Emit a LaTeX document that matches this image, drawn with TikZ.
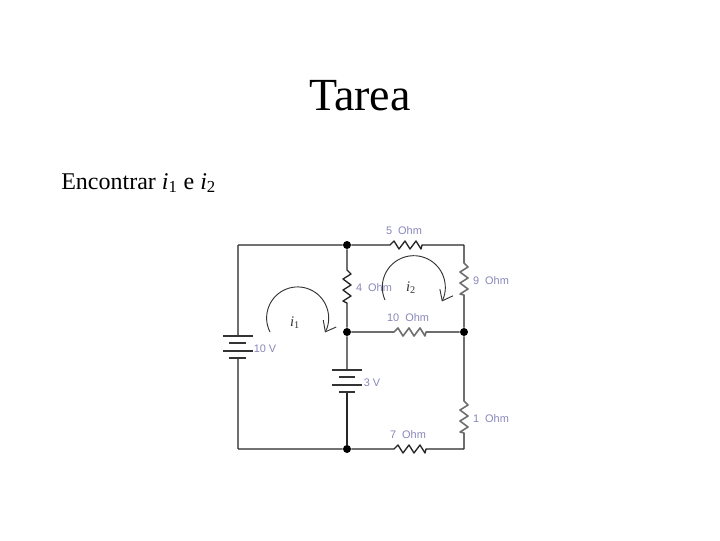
\documentclass[tikz,border=0pt]{standalone}
\usepackage{fontspec}
\setmainfont{Liberation Serif}
\newfontfamily\labelfont{Liberation Sans}
\usetikzlibrary{arrows.meta}
\definecolor{labelblue}{RGB}{135,135,185}
\definecolor{wiregray}{RGB}{110,110,110}
\tikzset{
	dot/.style={circle,fill=black,inner sep=0pt,minimum size=6pt},
	value/.style={text=labelblue,font=\labelfont\fontsize{8.2}{10}\selectfont,inner sep=0pt},
	current/.style={font=\fontsize{11}{13}\selectfont,inner sep=0pt,text=black!80},
	wire/.style={line width=1pt,black!85},
	graywire/.style={line width=1.2pt,wiregray},
	plate/.style={line width=.8pt,black!80},
	resh/.style={to path={-- ++(4,-4) -- ++(5,8) -- ++(6,-8) -- ++(5,8) -- ++(6,-8) -- ++(5,8) -- (\tikztotarget)}},
	resv/.style={to path={-- ++(4,4) -- ++(-8,5) -- ++(8,6) -- ++(-8,5) -- ++(8,6) -- ++(-8,5) -- (\tikztotarget)}},
	turn/.style={line width=.7pt,black!80,->},
}
\begin{document}
\begin{tikzpicture}[x=.75pt,y=-.75pt,>={Straight Barb[length=7pt,width=11pt]},line join=round]
	\useasboundingbox (0,0) rectangle (720,540);
	\node[font=\fontsize{34.5}{40}\selectfont,inner sep=0pt] (title) at (360,96) {Tarea};
	\node[font=\fontsize{18}{22}\selectfont,inner sep=0pt,anchor=base west] (task) at (61,189) {Encontrar \textit{i}\textsubscript{1} e \textit{i}\textsubscript{2}};
	% corners and junctions
	\coordinate (tl) at (238,245);
	\coordinate (bl) at (238,449);
	\coordinate (tr) at (464,245);
	\coordinate (br) at (464,449);
	\node[dot] (top) at (347,245) {};
	\node[dot] (mid) at (347,332) {};
	\node[dot] (right) at (464,332) {};
	\node[dot] (bot) at (347,449) {};
	% resistor ends
	\coordinate (r5a) at (390,245);
	\coordinate (r5b) at (422,245);
	\coordinate (r10a) at (394,332);
	\coordinate (r10b) at (426,332);
	\coordinate (r7a) at (394,449);
	\coordinate (r7b) at (426,449);
	\coordinate (r4a) at (347,270);
	\coordinate (r4b) at (347,303);
	\coordinate (r9a) at (464,263);
	\coordinate (r9b) at (464,295);
	\coordinate (r1a) at (464,401);
	\coordinate (r1b) at (464,433);
	% batteries
	\coordinate (b10a) at (238,336);
	\coordinate (b10b) at (238,358);
	\coordinate (b3a) at (347,370);
	\coordinate (b3b) at (347,392);
	\draw[graywire] (tl) -- (b10a);
	\draw[graywire] (b10b) -- (bl);
	\draw[graywire] (tr) -- (r9a) to[resv] (r9b) -- (right) -- (r1a) to[resv] (r1b) -- (br);
	\draw[graywire] (mid) -- (r10a) to[resh] (r10b) -- (right);
	\draw[wire] (tl) -- (top) -- (r5a) to[resh] (r5b) -- (tr);
	\draw[wire] (top) -- (r4a) to[resv] (r4b) -- (mid) -- (b3a);
	\draw[wire] (b3b) -- (bot);
	\draw[wire] (bl) -- (bot) -- (r7a) to[resh] (r7b) -- (br);
	\draw[plate] (223,336) -- (253,336);
	\draw[plate] (229,343) -- (246,343);
	\draw[plate] (223,351) -- (253,351);
	\draw[plate] (229,358) -- (246,358);
	\draw[plate] (332,370) -- (362,370);
	\draw[plate] (339,377) -- (355,377);
	\draw[plate] (332,385) -- (362,385);
	\draw[plate] (339,392) -- (355,392);
	% loop currents
	\coordinate (i1start) at (270,332);
	\coordinate (i2start) at (385,300);
	\draw[turn] (i1start) arc[start angle=153,end angle=388,radius=31];
	\draw[turn] (i2start) arc[start angle=156,end angle=387,radius=31.5];
	\node[current] (i1) at (295,323) {\textit{i}\textsubscript{1}};
	\node[current] (i2) at (411,288) {\textit{i}\textsubscript{2}};
	% values
	\node[value] (v5) at (404,230.5) {5~~Ohm};
	\node[value] (v9) at (491,280.5) {9~~Ohm};
	\node[value] (v4) at (374,288) {4~~Ohm};
	\node[value] (v10) at (408,317.5) {10~~Ohm};
	\node[value] (v1) at (491,418.5) {1~~Ohm};
	\node[value] (v7) at (408,434.5) {7~~Ohm};
	\node[value] (v10v) at (265,348.5) {10 V};
	\node[value] (v3v) at (372,382.5) {3 V};
\end{tikzpicture}
\end{document}
